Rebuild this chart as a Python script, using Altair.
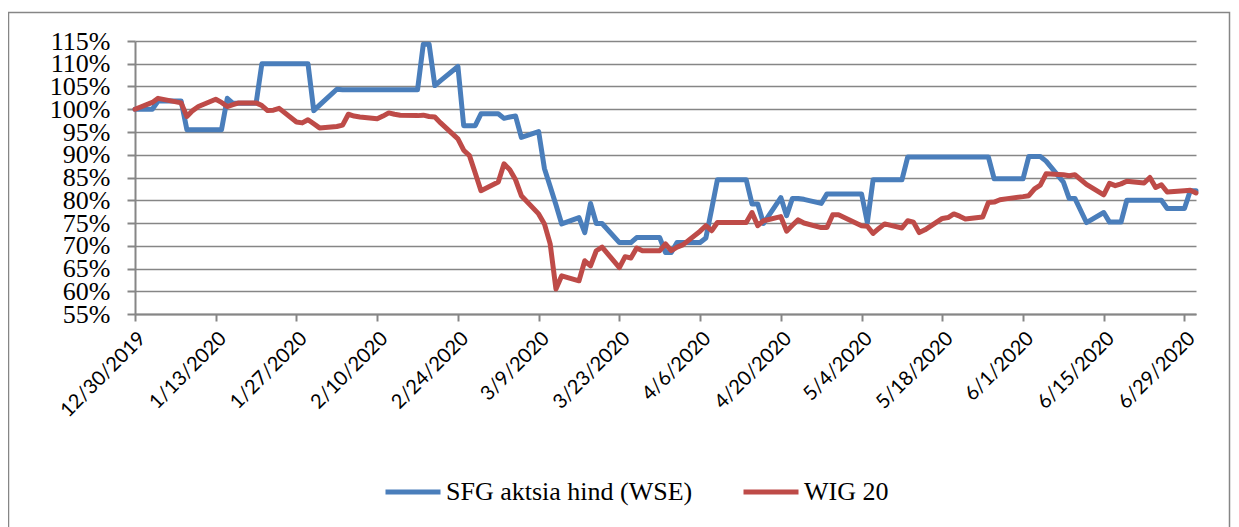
import altair as alt
import pandas as pd

# Trading days (month, day lists)
dec_days = [30]
jan_days = [2, 3, 7, 8, 9, 10, 13, 14, 15, 16, 17, 20, 21, 22, 23, 24, 27, 28, 29, 30, 31]
feb_days = [3, 4, 5, 6, 7, 10, 11, 12, 13, 14, 17, 18, 19, 20, 21, 24, 25, 26, 27, 28]
mar_days = [2, 3, 4, 5, 6, 9, 10, 11, 12, 13, 16, 17, 18, 19, 20, 23, 24, 25, 26, 27, 30, 31]
apr_days = [1, 2, 3, 6, 7, 8, 9, 14, 15, 16, 17, 20, 21, 22, 23, 24, 27, 28, 29, 30]
may_days = [4, 5, 6, 7, 8, 11, 12, 13, 14, 15, 18, 19, 20, 21, 22, 25, 26, 27, 28, 29]
jun_days = [1, 2, 3, 4, 5, 8, 9, 10, 12, 15, 16, 17, 18, 19, 22, 23, 24, 25, 26, 29, 30]
jul_days = [1]

# SFG aktsia hind (WSE), % of 12/30/2019
sfg = [
    100,
    100, 101.8, 101.8, 95.5, 95.5, 95.5, 95.5, 95.5, 102.4, 101.3, 101.3, 101.3, 110, 110, 110, 110, 110, 110, 110, 99.7, 100.9,
    104.4, 104.3, 104.3, 104.3, 104.3, 104.3, 104.3, 104.3, 104.3, 104.3, 104.3, 114.3, 114.3, 105.2, 106.3, 109.4, 96.4, 96.4, 96.4, 99,
    99, 98, 98.3, 98.5, 93.8, 95.1, 87, 83, 79, 74.8, 76.2, 72.9, 79.3, 74.9, 74.9, 70.7, 70.7, 70.7, 71.8, 71.8, 71.8, 68.5,
    68.5, 70.7, 70.7, 70.7, 71.7, 78, 84.5, 84.5, 79.2, 79.2, 74.9, 80.6, 76.6, 80.4, 80.4, 80.2, 79.3, 81.4, 81.4, 81.4,
    81.4, 75.1, 84.5, 84.5, 84.5, 84.5, 89.5, 89.5, 89.5, 89.5, 89.5, 89.5, 89.5, 89.5, 89.5, 89.5, 89.5, 84.7, 84.7, 84.7,
    84.7, 89.6, 89.6, 89.6, 88.6, 84, 80.4, 80.4, 75.1, 77.3, 75.2, 75.2, 75.2, 80, 80, 80, 80, 80, 78.2, 78.2, 82.1,
    82.1,
]

# WIG 20, % of 12/30/2019
wig = [
    100,
    101.5, 102.4, 101.4, 98.4, 99.7, 100.6, 102.2, 101.5, 100.6, 101, 101.4, 101.4, 100.8, 99.7, 99.8, 100.2, 97.2, 97, 97.7, 96.8, 95.9,
    96.2, 96.5, 98.9, 98.5, 98.3, 97.9, 98.5, 99.2, 98.9, 98.7, 98.6, 98.7, 98.4, 98.3, 97, 93.5, 91, 89.8, 86, 82.1,
    84, 88, 86.7, 84.5, 81, 77, 74.8, 70.4, 60.5, 63.4, 62.3, 66.7, 65.6, 68.9, 69.7, 65.2, 67.6, 67.3, 69.5, 68.9, 68.9, 70.4,
    68.9, 69.7, 70.2, 73.2, 74.4, 73.3, 75.1, 75.1, 77.3, 74.4, 75.5, 76.4, 73.2, 74.5, 75.7, 75, 74, 74, 76.8, 76.8,
    74.4, 74.3, 72.7, 73.8, 74.8, 73.9, 75.5, 75.2, 72.9, 73.5, 76, 76.2, 77, 76.5, 75.9, 76.3, 79.5, 79.6, 80.1, 80.3,
    80.8, 81, 82.5, 83.3, 85.8, 85.6, 85.4, 85.6, 83.5, 81.2, 83.7, 83.2, 83.6, 84.2, 83.8, 85, 82.8, 83.4, 81.8, 82.1, 82.2,
    81.6,
]

series_names = ["SFG aktsia hind (WSE)", "WIG 20"]
series_colors = ["#4A7EBB", "#BE4B48"]

y_ticks = [0.55, 0.60, 0.65, 0.70, 0.75, 0.80, 0.85, 0.90, 0.95, 1.00, 1.05, 1.10, 1.15]
x_ticks = [(2019, 12, 30), (2020, 1, 13), (2020, 1, 27), (2020, 2, 10), (2020, 2, 24),
           (2020, 3, 9), (2020, 3, 23), (2020, 4, 6), (2020, 4, 20), (2020, 5, 4),
           (2020, 5, 18), (2020, 6, 1), (2020, 6, 15), (2020, 6, 29)]

dates = []
for yr, mo, days in [(2019, 12, dec_days), (2020, 1, jan_days), (2020, 2, feb_days), (2020, 3, mar_days),
                     (2020, 4, apr_days), (2020, 5, may_days), (2020, 6, jun_days), (2020, 7, jul_days)]:
    for d in days:
        dates.append(f"{yr}-{mo:02d}-{d:02d}T00:00:00")

rows = []
for name, vals in zip(series_names, [sfg, wig]):
    for dt, v in zip(dates, vals):
        rows.append({"date": dt, "value": v / 100.0, "series": name})
df = pd.DataFrame(rows)

grey = "#868686"

lines = alt.Chart(df).mark_line(strokeWidth=5, strokeJoin="round", strokeCap="round").encode(
    x=alt.X(
        "date:T",
        title=None,
        scale=alt.Scale(domain=[alt.DateTime(year=2019, month=12, date=30),
                                alt.DateTime(year=2020, month=7, date=1)], nice=False),
        axis=alt.Axis(
            values=[alt.DateTime(year=a, month=b, date=c) for a, b, c in x_ticks],
            format="%-m/%-d/%Y",
            labelAngle=-45,
            labelAlign="right",
            labelBaseline="top",
            labelFont="Lato",
            labelFontSize=20,
            labelColor="#000000",
            labelPadding=7,
            labelFlush=False,
            labelOverlap=False,
            tickSize=7,
            tickColor=grey,
            tickWidth=2,
            domainColor=grey,
            domainWidth=2,
            grid=False,
        ),
    ),
    y=alt.Y(
        "value:Q",
        title=None,
        scale=alt.Scale(domain=[0.55, 1.15], nice=False, zero=False),
        axis=alt.Axis(
            values=y_ticks,
            format=".0%",
            labelFont="Liberation Serif",
            labelFontSize=26,
            labelColor="#000000",
            labelPadding=17,
            labelOverlap=False,
            labelFlush=False,
            tickSize=8,
            tickColor=grey,
            tickWidth=2,
            domainColor=grey,
            domainWidth=2,
            grid=True,
            gridColor=grey,
            gridWidth=1.6,
        ),
    ),
    color=alt.Color(
        "series:N",
        scale=alt.Scale(domain=series_names, range=series_colors),
        legend=alt.Legend(
            title=None,
            orient="none",
            legendX=248,
            legendY=421,
            direction="horizontal",
            symbolType="stroke",
            symbolStrokeWidth=5,
            symbolSize=3025,
            labelFont="Liberation Serif",
            labelFontSize=26,
            labelColor="#000000",
            labelLimit=0,
            labelOffset=3,
            columnPadding=40,
        ),
    ),
)

frame = alt.Chart(pd.DataFrame({"k": [0]})).mark_rect(
    filled=False, stroke=grey, strokeWidth=1.5
).encode(
    x=alt.value(-126.5), x2=alt.value(1094.5), y=alt.value(-28.5), y2=alt.value(520)
)

chart = alt.layer(frame, lines).properties(
    width=1061,
    height=273,
    autosize=alt.AutoSizeParams(type="none"),
    padding={"left": 127, "top": 33, "right": 35, "bottom": 213},
    background="#ffffff",
).configure_view(stroke=None)

chart.save("out.html", embed_options={"renderer": "svg", "actions": False})
